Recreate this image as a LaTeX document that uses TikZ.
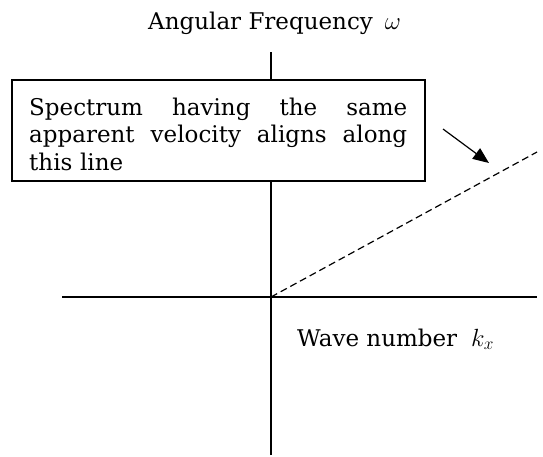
\documentclass[tikz,border=0pt]{standalone}
\usepackage{fontspec}
\setmainfont{DejaVu Serif}
\usetikzlibrary{arrows.meta,calc}
\begin{document}
\begin{tikzpicture}[x=1pt,y=1pt,
  axisline/.style={line width=1.4pt},
  lbl/.style={font=\fontsize{23}{27.5}\selectfont, inner sep=0pt},
  notebox/.style={draw, line width=1.4pt, fill=white, minimum width=413pt, minimum height=101pt, inner sep=0pt},
  guideline/.style={line width=1.2pt, dash pattern=on 7pt off 4pt},
  pointer/.style={line width=1.2pt, -{Triangle[length=16pt,width=13pt]}}]
\useasboundingbox (0,0) rectangle (543,-456);
% axes
\coordinate (o) at (271,-297);
\coordinate (vtop) at (271,-52);
\coordinate (vbot) at (271,-455);
\coordinate (hleft) at (62,-297);
\coordinate (hright) at (537,-297);
\draw[axisline] (vbot) -- (vtop);
\draw[axisline] (hleft) -- (hright);
% dashed line
\coordinate (dend) at (537,-152);
\draw[guideline] (o) -- (dend);
% labels
\node[lbl, anchor=base west] (title) at (148,-29) {Angular Frequency\hspace{12pt}$\omega$};
\node[lbl, anchor=base west] (wave) at (297,-346) {Wave number\hspace{14pt}$k_x$};
% box
\node[notebox] (box) at (218.5,-130.5) {};
\node[lbl, anchor=north west, text width=378pt] (boxtext) at (29,-97.5)
  {\parindent=0pt
   \hbox to 378pt{Spectrum\hfill having\hfill the\hfill same}
   \hbox to 378pt{apparent\hfill velocity\hfill aligns\hfill along}
   \hbox{this line}};
% pointer
\coordinate (pstart) at (443,-129);
\coordinate (ptip) at (489,-163);
\draw[pointer] (pstart) -- (ptip);
\end{tikzpicture}
\end{document}
